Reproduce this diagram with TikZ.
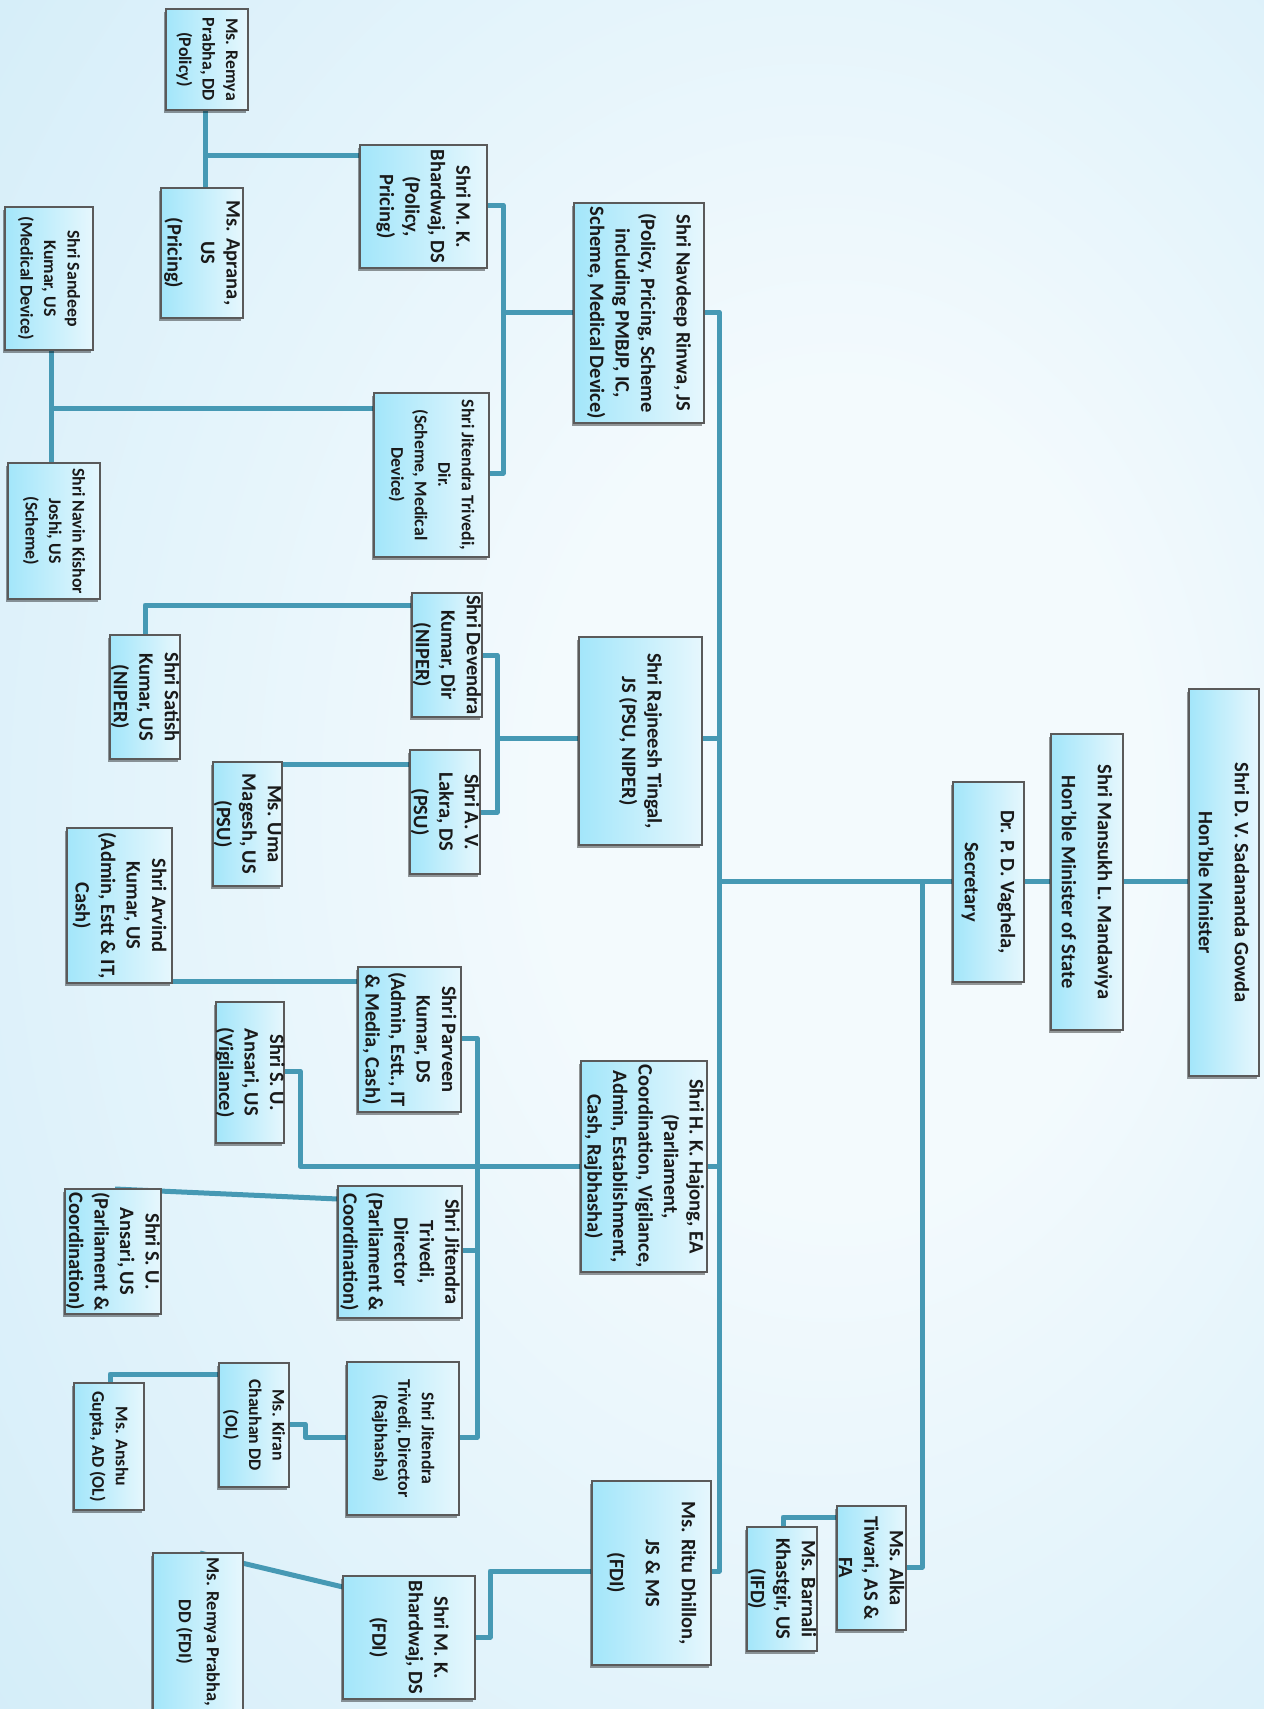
\documentclass[tikz,border=0pt]{standalone}
\usepackage{fontspec}
\setmainfont{Carlito}
\definecolor{bgC}{HTML}{F3FAFD}
\definecolor{bgM}{HTML}{D6EEF9}
\definecolor{bgO}{HTML}{AEDDF3}
\definecolor{boxL}{HTML}{A3E6FA}
\definecolor{boxR}{HTML}{E6F7FD}
\definecolor{boxD}{HTML}{5A5A5A}
\definecolor{connc}{HTML}{4699B4}
\definecolor{txtc}{HTML}{1A1A1A}
\pgfdeclareradialshading{bgsh}{\pgfpoint{10bp}{2bp}}{color(0bp)=(bgC); color(12bp)=(bgC); color(38bp)=(bgM); color(72bp)=(bgO)}
\pgfdeclarelayer{bglayer}
\pgfdeclarelayer{edgelayer}
\pgfsetlayers{bglayer,edgelayer,main}
\tikzset{
  box/.style={draw=boxD, line width=1.3pt, left color=boxL, right color=boxR, inner sep=0pt, outer sep=0pt},
  conn/.style={draw=connc, line width=5pt, line join=round},
  tB/.style={rotate=-90, align=center, text=txtc, inner sep=0pt, font=\fontsize{20.5}{25.5}\selectfont\bfseries},
  tS/.style={rotate=-90, align=center, text=txtc, inner sep=0pt, font=\fontsize{17.8}{23.5}\selectfont\bfseries},
  tM/.style={rotate=-90, align=center, text=txtc, inner sep=0pt, font=\fontsize{18.5}{28}\selectfont\bfseries},
  tT/.style={rotate=-90, align=center, text=txtc, inner sep=0pt, font=\fontsize{20.5}{36}\selectfont\bfseries},
}
\newcommand\orgbox[7]{%
  \fill[black, opacity=0.4] ({(#2)-2.5},{(#3)+2.5}) rectangle ({(#4)-2.5},{(#5)+2.5});
  \node[box, minimum width={(#4)-(#2)}, minimum height={(#5)-(#3)}] (#1) at ({((#2)+(#4))/2},{((#3)+(#5))/2}) {};
  \node[#6] (#1t) at (#1.center) {#7};}
\begin{document}
\begin{tikzpicture}[x=1pt,y=-1pt]
\useasboundingbox (0,0) rectangle (1264,1709);
\begin{pgfonlayer}{bglayer}
\shade[shading=bgsh] (0,0) rectangle (1264,1709);
\end{pgfonlayer}

\orgbox{gowda}{1189}{689}{1259}{1076}{tT}{Shri D. V. Sadananda Gowda\\Hon'ble Minister}
\orgbox{mansukh}{1051}{734}{1123}{1030}{tT}{Shri Mansukh L. Mandaviya\\Hon'ble Minister of State}
\orgbox{secy}{953}{782}{1024}{982}{tT}{Dr. P. D. Vaghela,\\Secretary}
\orgbox{navdeep}{574}{203}{704}{423}{tB}{Shri Navdeep Rinwa, JS\\[10pt](Policy, Pricing, Scheme\\including PMBJP, IC,\\Scheme, Medical Device)}
\orgbox{rajneesh}{579}{637}{702}{845}{tB}{Shri Rajneesh Tingal,\\JS (PSU, NIPER)}
\orgbox{hajong}{581}{1061}{707}{1272}{tB}{Shri H. K. Hajong, EA\\(Parliament,\\Coordination, Vigilance,\\Admin, Establishment,\\Cash, Rajbhasha)}
\orgbox{ritu}{592}{1481}{711}{1665}{tT}{Ms. Ritu Dhillon,\\JS \& MS\\(FDI)}
\orgbox{alka}{837}{1506}{906}{1630}{tB}{Ms. Alka\\Tiwari, AS \&\\FA}
\orgbox{barnali}{747}{1527}{817}{1651}{tB}{Ms. Barnali\\Khastgir, US\\(IFD)}
\orgbox{bhpol}{360}{145}{487}{268}{tB}{Shri M. K.\\Bhardwaj, DS\\(Policy,\\Pricing)}
\orgbox{remyapol}{166}{9}{248}{110}{tS}{Ms. Remya\\Prabha, DD\\(Policy)}
\orgbox{aprana}{161}{188}{243}{318}{tB}{Ms. Aprana,\\US\\[8pt](Pricing)}
\orgbox{jitdir}{374}{393}{489}{557}{tS}{Shri Jitendra Trivedi,\\Dir.\\(Scheme, Medical\\Device)}
\orgbox{sandeep}{5}{207}{93}{350}{tS}{Shri Sandeep\\Kumar, US\\(Medical Device)}
\orgbox{navin}{8}{463}{100}{599}{tS}{Shri Navin Kishor\\Joshi, US\\(Scheme)}
\orgbox{devendra}{412}{593}{482}{717}{tB}{Shri Devendra\\Kumar, Dir\\(NIPER)}
\orgbox{satish}{110}{635}{180}{759}{tB}{Shri Satish\\Kumar, US\\(NIPER)}
\orgbox{lakra}{410}{750}{480}{874}{tB}{Shri A. V.\\Lakra, DS\\(PSU)}
\orgbox{uma}{213}{762}{282}{886}{tB}{Ms. Uma\\Magesh, US\\(PSU)}
\orgbox{arvind}{67}{828}{172}{983}{tB}{Shri Arvind\\Kumar, US\\(Admin, Estt \& IT,\\Cash)}
\orgbox{parveen}{358}{967}{461}{1112}{tB}{Shri Parveen\\Kumar, DS\\(Admin, Estt., IT\\\& Media, Cash)}
\orgbox{ansvig}{216}{1002}{284}{1143}{tB}{Shri S. U.\\Ansari, US\\(Vigilance)}
\orgbox{jitparl}{338}{1186}{462}{1318}{tB}{Shri Jitendra\\Trivedi,\\Director\\(Parliament \&\\Coordination)}
\orgbox{anspar}{65}{1189}{161}{1314}{tB}{Shri S. U.\\Ansari, US\\(Parliament \&\\Coordination)}
\orgbox{jitraj}{347}{1362}{459}{1515}{tS}{Shri Jitendra\\Trivedi, Director\\(Rajbhasha)}
\orgbox{kiran}{219}{1363}{289}{1487}{tS}{Ms. Kiran\\Chauhan DD\\(OL)}
\orgbox{anshu}{74}{1383}{144}{1510}{tS}{Ms. Anshu\\Gupta, AD (OL)}
\orgbox{bhfdi}{343}{1576}{475}{1699}{tB}{Shri M. K.\\Bhardwaj, DS\\[11pt](FDI)}
\orgbox{remyafdi}{153}{1553}{243}{1711}{tM}{Ms. Remya Prabha,\\DD (FDI)}

% junction coordinates
\coordinate (hub) at (719,881);
\coordinate (trTop) at (719,312);
\coordinate (trBot) at (719,1571);
\coordinate (trR) at (719,738);
\coordinate (trH) at (719,1166);
\coordinate (aJ) at (922,881);
\coordinate (aB) at (922,1567);
\coordinate (abJ) at (783,1517);
\coordinate (nJ) at (503,312);
\coordinate (nT) at (503,205);
\coordinate (nB) at (503,473);
\coordinate (bJ) at (205,155);
\coordinate (jJ) at (51,408);
\coordinate (rJ) at (497,738);
\coordinate (rT) at (497,655);
\coordinate (rB) at (497,812);
\coordinate (dJ) at (145,605);
\coordinate (lJ) at (250,764);
\coordinate (hJ) at (300,1166);
\coordinate (hV) at (300,1071);
\coordinate (pT) at (477,1038);
\coordinate (pM) at (477,1250);
\coordinate (pB) at (477,1437);
\coordinate (paJ) at (300,981);
\coordinate (jpJ) at (300,1199);
\coordinate (apJ) at (115,1189);
\coordinate (jrJ) at (305,1437);
\coordinate (jrK) at (305,1424);
\coordinate (kJ) at (110,1374);
\coordinate (riJ) at (490,1571);
\coordinate (riB) at (490,1637);
\coordinate (bfJ) at (300,1587);
\coordinate (rfJ) at (200,1553);

\begin{pgfonlayer}{edgelayer}
\draw[conn] (gowda.west |- hub) -- (mansukh.east |- hub);
\draw[conn] (mansukh.west |- hub) -- (secy.east |- hub);
\draw[conn] (secy.west |- hub) -- (hub);
\draw[conn] (navdeep.east |- trTop) -- (trTop) -- (trBot) -- (ritu.east |- trBot);
\draw[conn] (rajneesh.east |- trR) -- (trR);
\draw[conn] (hajong.east |- trH) -- (trH);
\draw[conn] (aJ) -- (aB) -- (alka.east |- aB);
\draw[conn] (alka.west |- abJ) -- (abJ) -- (abJ |- barnali.north);
\draw[conn] (navdeep.west |- nJ) -- (nJ);
\draw[conn] (bhpol.east |- nT) -- (nT) -- (nB) -- (jitdir.east |- nB);
\draw[conn] (bhpol.west |- bJ) -- (bJ);
\draw[conn] (bJ |- remyapol.south) -- (bJ |- aprana.north);
\draw[conn] (jitdir.west |- jJ) -- (jJ);
\draw[conn] (jJ |- sandeep.south) -- (jJ |- navin.north);
\draw[conn] (rajneesh.west |- rJ) -- (rJ);
\draw[conn] (devendra.east |- rT) -- (rT) -- (rB) -- (lakra.east |- rB);
\draw[conn] (devendra.west |- dJ) -- (dJ) -- (dJ |- satish.north);
\draw[conn] (lakra.west |- lJ) -- (lJ);
\draw[conn] (hajong.west |- hJ) -- (hJ) -- (hV) -- (ansvig.east |- hV);
\draw[conn] (parveen.east |- pT) -- (pT) -- (pB) -- (jitraj.east |- pB);
\draw[conn] (jitparl.east |- pM) -- (pM);
\draw[conn] (parveen.west |- paJ) -- (arvind.east |- paJ);
\draw[conn] (jitparl.west |- jpJ) -- (apJ |- anspar.north);
\draw[conn] (jitraj.west |- jrJ) -- (jrJ) -- (jrK) -- (kiran.east |- jrK);
\draw[conn] (kiran.west |- kJ) -- (kJ) -- (kJ |- anshu.north);
\draw[conn] (ritu.west |- riJ) -- (riJ) -- (riB) -- (bhfdi.east |- riB);
\draw[conn] (bhfdi.west |- bfJ) -- (rfJ |- remyafdi.north);
\end{pgfonlayer}
\end{tikzpicture}
\end{document}
